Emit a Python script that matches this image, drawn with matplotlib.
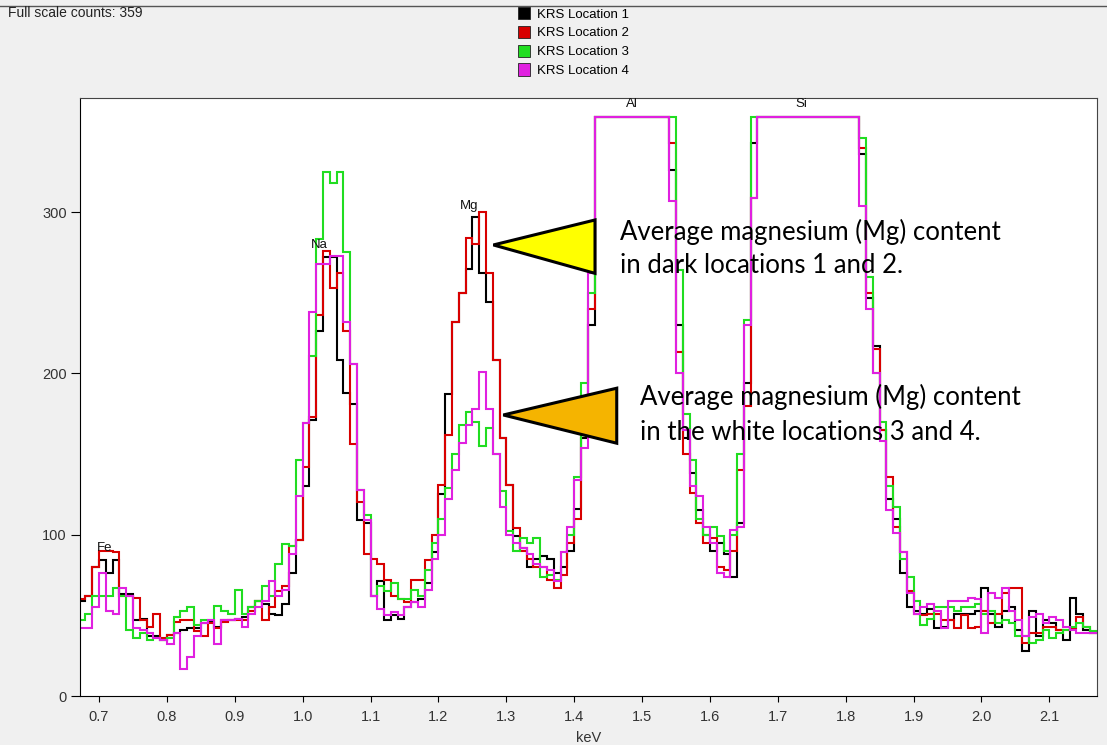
import numpy as np
import matplotlib.pyplot as plt
from matplotlib.patches import Patch, Polygon
from matplotlib.lines import Line2D

# spectrum binning (keV)
kev_start = 0.67
bin_width = 0.01
full_scale = 359

# counts per bin, 0.67 .. 2.16 keV, rows of 10 bins
loc1 = [59, 62, 80, 84, 76, 84, 63, 63, 47, 48,
        37, 37, 35, 38, 39, 41, 42, 42, 45, 46,
        43, 47, 47, 48, 49, 55, 59, 57, 51, 50,
        57, 76, 97, 130, 171, 226, 272, 272, 208, 188,
        181, 109, 107, 62, 71, 47, 50, 48, 55, 58,
        60, 70, 89, 125, 187, 232, 250, 265, 297, 262,
        244, 208, 160, 131, 99, 92, 80, 85, 87, 85,
        76, 80, 90, 116, 160, 230, 359, 359, 359, 359,
        359, 359, 359, 359, 359, 359, 359, 326, 230, 160,
        138, 115, 100, 90, 95, 88, 74, 107, 194, 343,
        359, 359, 359, 359, 359, 359, 359, 359, 359, 359,
        359, 359, 359, 359, 359, 336, 247, 217, 165, 122,
        110, 76, 55, 53, 51, 54, 42, 43, 47, 51,
        51, 51, 53, 67, 51, 43, 53, 55, 41, 28,
        53, 37, 47, 45, 41, 35, 61, 51, 41, 39]

loc2 = [60, 62, 80, 90, 90, 89, 62, 62, 61, 47,
        43, 51, 36, 38, 46, 47, 47, 40, 37, 45,
        42, 46, 47, 47, 47, 53, 59, 47, 55, 65,
        68, 93, 97, 142, 173, 236, 276, 253, 262, 226,
        156, 120, 88, 85, 82, 72, 62, 60, 58, 72,
        72, 84, 100, 131, 162, 232, 250, 284, 280, 300,
        262, 208, 160, 131, 104, 90, 85, 80, 80, 72,
        67, 75, 95, 110, 170, 240, 359, 359, 359, 359,
        359, 359, 359, 359, 359, 359, 359, 343, 213, 150,
        126, 107, 95, 98, 80, 78, 90, 140, 180, 309,
        359, 359, 359, 359, 359, 359, 359, 359, 359, 359,
        359, 359, 359, 359, 359, 340, 250, 215, 165, 136,
        105, 89, 65, 51, 50, 51, 51, 47, 47, 42,
        50, 42, 43, 53, 45, 51, 64, 67, 67, 33,
        39, 39, 43, 43, 41, 41, 42, 49, 43, 39]

loc3 = [47, 51, 62, 62, 62, 67, 62, 41, 36, 39,
        35, 36, 35, 36, 49, 53, 55, 44, 47, 47,
        56, 53, 51, 66, 51, 55, 59, 68, 62, 82,
        94, 93, 146, 169, 211, 283, 325, 318, 325, 275,
        206, 128, 112, 62, 68, 65, 70, 60, 60, 66,
        62, 78, 95, 110, 129, 150, 168, 176, 170, 155,
        166, 150, 127, 102, 90, 98, 95, 98, 74, 75,
        72, 89, 100, 136, 194, 250, 359, 359, 359, 359,
        359, 359, 359, 359, 359, 359, 359, 359, 264, 175,
        146, 110, 100, 105, 99, 90, 100, 150, 233, 359,
        359, 359, 359, 359, 359, 359, 359, 359, 359, 359,
        359, 359, 359, 359, 359, 346, 260, 200, 170, 130,
        117, 85, 74, 59, 44, 48, 55, 55, 55, 53,
        55, 55, 57, 51, 53, 45, 47, 45, 37, 37,
        33, 35, 41, 36, 39, 41, 43, 45, 43, 40]

loc4 = [42, 42, 55, 76, 53, 51, 67, 62, 42, 41,
        39, 36, 35, 32, 39, 17, 24, 37, 45, 47,
        32, 47, 47, 48, 43, 51, 55, 59, 71, 62,
        66, 88, 124, 169, 238, 268, 268, 273, 273, 232,
        206, 128, 109, 62, 54, 50, 52, 50, 55, 58,
        55, 66, 85, 100, 122, 140, 157, 168, 178, 201,
        178, 150, 117, 100, 95, 92, 88, 82, 80, 78,
        71, 89, 105, 134, 154, 262, 359, 359, 359, 359,
        359, 359, 359, 359, 359, 359, 359, 307, 200, 165,
        130, 124, 105, 95, 76, 74, 103, 105, 230, 309,
        359, 359, 359, 359, 359, 359, 359, 359, 359, 359,
        359, 359, 359, 359, 359, 304, 240, 200, 158, 115,
        101, 89, 64, 51, 55, 57, 53, 42, 59, 59,
        59, 61, 60, 39, 64, 61, 67, 53, 47, 37,
        49, 51, 45, 49, 47, 43, 41, 39, 39, 39]

series = [loc1, loc2, loc3, loc4]
labels = ['KRS Location 1', 'KRS Location 2', 'KRS Location 3', 'KRS Location 4']
colors = ['#000000', '#d80000', '#20dd20', '#e020e0']

# element markers: (label, keV, counts)
elements = [('Fe', 0.708, 88), ('Na', 1.025, 276), ('Mg', 1.245, 300),
            ('Al', 1.485, 363), ('Si', 1.735, 363)]

xticks = [0.7, 0.8, 0.9, 1.0, 1.1, 1.2, 1.3, 1.4, 1.5, 1.6, 1.7, 1.8, 1.9, 2.0, 2.1]
yticks = [0, 100, 200, 300]

W, H = 1107, 745
fig = plt.figure(figsize=(W / 100, H / 100), dpi=100, facecolor='#f0f0f0')
ax = fig.add_axes([80 / W, 1 - 696 / H, (1097 - 80) / W, (696 - 98) / H])
ax.set_facecolor('white')

n = len(loc1)
edges = kev_start + bin_width * np.arange(n + 1)
for vals, c in zip(series, colors):
    ax.stairs(vals, edges, color=c, lw=1.5, baseline=None)

ax.set_xlim(0.672, 2.1702)
ax.set_ylim(0, 370.7)

ax.set_xticks(xticks)
ax.set_xticklabels(['%.1f' % t for t in xticks])
ax.set_yticks(yticks)
ax.tick_params(axis='x', direction='out', length=4, pad=6, labelsize=10.5,
               labelcolor='#333333', width=0.8)
ax.tick_params(axis='y', direction='out', length=6.5, pad=3, labelsize=10.5,
               labelcolor='#333333', width=0.8)
for lab in ax.get_xticklabels() + ax.get_yticklabels():
    lab.set_family('Liberation Sans')
ax.set_xlabel('keV', family='Liberation Sans', fontsize=10.5, color='#333333', labelpad=5)

for s in ['left', 'bottom']:
    ax.spines[s].set_color('black')
for s in ['top', 'right']:
    ax.spines[s].set_color('#444444')

for name, e, cnt in elements:
    ax.text(e, cnt, name, fontsize=9.5, family='Liberation Sans', ha='center',
            va='bottom', color='#111111')

# callout triangles
ax.add_patch(Polygon([[1.281, 279.6], [1.4307, 295.1], [1.4307, 262.0]], closed=True,
                     facecolor='#ffff00', edgecolor='black', lw=2.2, zorder=5))
ax.add_patch(Polygon([[1.2956, 174.2], [1.4627, 190.8], [1.4627, 156.7]], closed=True,
                     facecolor='#f5b400', edgecolor='black', lw=2.2, zorder=5))

note_font = dict(family='Lato', fontsize=18.5, color='black', va='baseline', zorder=6)
ax.text(1.4675, 282.7, 'Average magnesium (Mg) content', **note_font)
ax.text(1.4675, 262.2, 'in dark locations 1 and 2.', **note_font)
ax.text(1.497, 180.4, 'Average magnesium (Mg) content', **note_font)
ax.text(1.497, 158.7, 'in the white locations 3 and 4.', **note_font)

# header
fig.add_artist(Line2D([0, 1], [1 - 6 / H, 1 - 6 / H], transform=fig.transFigure,
                      color='#555555', lw=1))
fig.text(8 / W, 1 - 6 / H, 'Full scale counts: %d' % full_scale, family='Liberation Sans',
         fontsize=10, va='top', ha='left', color='#222222')

handles = [Patch(facecolor=c, edgecolor='#222222', lw=0.6) for c in colors]
fig.legend(handles, labels, loc='upper left', bbox_to_anchor=(518 / W, 1 - 7 / H),
           frameon=False, prop={'family': 'Liberation Sans', 'size': 9.5},
           handlelength=0.9, handleheight=1.06, handletextpad=0.53,
           labelspacing=0.39, borderpad=0, borderaxespad=0)

fig.savefig('out.png', dpi=100, facecolor=fig.get_facecolor())
